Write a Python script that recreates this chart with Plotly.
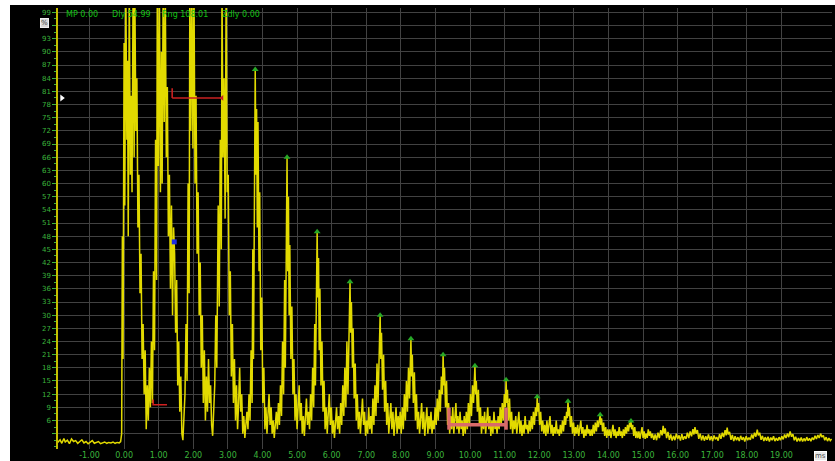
import plotly.graph_objects as go

# ---------------- data read from the A-scan (time in ms, amplitude in %) ----------------
baseline = [(-1.92, 1.0), (-1.85, 1.6), (-1.80, 0.8), (-1.74, 1.9), (-1.70, 1.1), (-1.64, 1.5),
            (-1.58, 0.7), (-1.52, 1.8), (-1.46, 1.2), (-1.40, 1.4), (-1.34, 0.8), (-1.28, 1.3),
            (-1.22, 1.6), (-1.16, 0.9), (-1.10, 1.2), (-1.04, 0.7), (-0.98, 1.1), (-0.92, 1.4),
            (-0.86, 0.8), (-0.80, 1.0), (-0.74, 1.2), (-0.68, 0.7), (-0.62, 0.9), (-0.56, 1.1),
            (-0.50, 0.8), (-0.44, 1.0), (-0.38, 0.9), (-0.32, 1.1), (-0.26, 0.8), (-0.20, 1.0),
            (-0.14, 0.9)]

echo_e0 = [(-0.10, 1.2), (-0.07, 3), (-0.05, 48), (-0.03, 20), (0.00, 92), (0.02, 55), (0.05, 105),
           (0.08, 70), (0.10, 88), (0.12, 48), (0.15, 105), (0.18, 62), (0.20, 80), (0.23, 58),
           (0.26, 105), (0.29, 66), (0.31, 105), (0.34, 72), (0.37, 84), (0.40, 50), (0.43, 62),
           (0.46, 35), (0.49, 44), (0.52, 20), (0.55, 28), (0.58, 12), (0.61, 22), (0.64, 4),
           (0.67, 14), (0.70, 6), (0.73, 18), (0.76, 9)]

echo_e1 = [(0.79, 24), (0.82, 10), (0.85, 40), (0.88, 22), (0.91, 70), (0.94, 38), (0.96, 105),
           (0.99, 64), (1.02, 105), (1.05, 58), (1.08, 90), (1.10, 60), (1.13, 105), (1.16, 74),
           (1.19, 105), (1.22, 66), (1.25, 82), (1.28, 48), (1.31, 62), (1.34, 36), (1.37, 55),
           (1.40, 30), (1.43, 50), (1.46, 44), (1.49, 26), (1.52, 38), (1.55, 14), (1.58, 24),
           (1.61, 8), (1.64, 16), (1.67, 3), (1.70, 1.5), (1.73, 6)]

echo_e2 = [(1.76, 12), (1.79, 28), (1.82, 15), (1.85, 60), (1.88, 35), (1.90, 105), (1.93, 72),
           (1.96, 105), (1.99, 68), (2.02, 105), (2.05, 60), (2.08, 80), (2.11, 44), (2.14, 58),
           (2.17, 30), (2.20, 42), (2.23, 18), (2.26, 30), (2.29, 10), (2.32, 22), (2.35, 6),
           (2.38, 16), (2.41, 8), (2.44, 20), (2.47, 10), (2.50, 14), (2.53, 5), (2.56, 2.5),
           (2.59, 8)]

echo_e3 = [(2.62, 14), (2.65, 30), (2.68, 18), (2.72, 55), (2.75, 32), (2.78, 70), (2.81, 45),
           (2.83, 105), (2.86, 66), (2.89, 84), (2.92, 52), (2.95, 105), (2.98, 58), (3.01, 62),
           (3.04, 30), (3.07, 40), (3.10, 16), (3.13, 28), (3.16, 10), (3.19, 20), (3.22, 6),
           (3.25, 14), (3.28, 4), (3.31, 10), (3.34, 18), (3.37, 8), (3.40, 12), (3.43, 3),
           (3.46, 7), (3.49, 2), (3.52, 5)]

echo_e4 = [(3.55, 8), (3.58, 4), (3.61, 12), (3.64, 6), (3.67, 22), (3.70, 10), (3.72, 45),
           (3.74, 20), (3.77, 70), (3.79, 86), (3.81, 62), (3.83, 77), (3.85, 50), (3.87, 74),
           (3.90, 40), (3.92, 58), (3.95, 22), (3.98, 34), (4.01, 10), (4.04, 18), (4.07, 4),
           (4.10, 9), (4.13, 3), (4.16, 7), (4.19, 12), (4.22, 5), (4.25, 9), (4.28, 3),
           (4.31, 6), (4.34, 2), (4.37, 5), (4.40, 8), (4.43, 4)]

echo_e5 = [(4.46, 10), (4.49, 5), (4.52, 14), (4.55, 7), (4.58, 24), (4.61, 12), (4.64, 38),
           (4.66, 18), (4.69, 52), (4.71, 66), (4.73, 40), (4.75, 57), (4.77, 30), (4.79, 46),
           (4.82, 20), (4.85, 32), (4.88, 12), (4.91, 20), (4.94, 6), (4.97, 12), (5.00, 4),
           (5.03, 8), (5.06, 14), (5.09, 6), (5.12, 10), (5.15, 3), (5.18, 7), (5.21, 2.5),
           (5.24, 6), (5.27, 11), (5.30, 5)]

echo_e6 = [(5.33, 8), (5.36, 4), (5.39, 12), (5.42, 6), (5.45, 18), (5.48, 9), (5.51, 28),
           (5.53, 14), (5.56, 40), (5.58, 49), (5.60, 34), (5.62, 43), (5.64, 22), (5.66, 36),
           (5.69, 14), (5.72, 24), (5.75, 8), (5.78, 15), (5.81, 4), (5.84, 9), (5.87, 3),
           (5.90, 7), (5.93, 12), (5.96, 5), (5.99, 9), (6.02, 3), (6.05, 6), (6.08, 2),
           (6.11, 5), (6.14, 9), (6.17, 4), (6.20, 7)]

echo_e7 = [(6.23, 3), (6.26, 10), (6.29, 5), (6.32, 14), (6.35, 7), (6.38, 18), (6.41, 9),
           (6.44, 24), (6.47, 12), (6.50, 30), (6.53, 37.6), (6.55, 26), (6.57, 33), (6.60, 18),
           (6.62, 27), (6.65, 11), (6.68, 19), (6.71, 6), (6.74, 12), (6.77, 4), (6.80, 8),
           (6.83, 3), (6.86, 7), (6.89, 11), (6.92, 5), (6.95, 8), (6.98, 2.5), (7.01, 6),
           (7.04, 3), (7.07, 9), (7.10, 4)]

echo_e8 = [(7.13, 7), (7.16, 3), (7.19, 11), (7.22, 5), (7.25, 14), (7.28, 7), (7.31, 19),
           (7.34, 10), (7.37, 24), (7.40, 30), (7.42, 20), (7.44, 26), (7.47, 13), (7.50, 21),
           (7.53, 8), (7.56, 15), (7.59, 5), (7.62, 10), (7.65, 3), (7.68, 7), (7.71, 10),
           (7.74, 4), (7.77, 8), (7.80, 2.5), (7.83, 6), (7.86, 9), (7.89, 3), (7.92, 7),
           (7.95, 4), (7.98, 8)]

echo_e9 = [(8.01, 3), (8.04, 9), (8.07, 4), (8.10, 12), (8.13, 6), (8.16, 15), (8.19, 8),
           (8.22, 18), (8.25, 11), (8.27, 21), (8.29, 24.6), (8.31, 16), (8.33, 21), (8.36, 10),
           (8.39, 17), (8.42, 6), (8.45, 12), (8.48, 4), (8.51, 8), (8.54, 3), (8.57, 7),
           (8.60, 10), (8.63, 4), (8.66, 8), (8.69, 2.5), (8.72, 6), (8.75, 9), (8.78, 3),
           (8.81, 7), (8.84, 4), (8.87, 8), (8.90, 3), (8.93, 6)]

echo_e10 = [(8.96, 4), (8.99, 9), (9.02, 5), (9.05, 11), (9.08, 6), (9.11, 13), (9.14, 8),
            (9.17, 16), (9.20, 12), (9.22, 21), (9.24, 14), (9.26, 18), (9.29, 9), (9.32, 15),
            (9.35, 5), (9.38, 10), (9.41, 3), (9.44, 7), (9.47, 4), (9.50, 9), (9.53, 3),
            (9.56, 6), (9.59, 10), (9.62, 4), (9.65, 7), (9.68, 3), (9.71, 8), (9.74, 4),
            (9.77, 6), (9.80, 2.5), (9.83, 7)]

echo_e11 = [(9.86, 3), (9.89, 8), (9.92, 4), (9.95, 10), (9.98, 5), (10.01, 12), (10.04, 7),
            (10.07, 14), (10.10, 10), (10.12, 16), (10.14, 18.5), (10.16, 12), (10.18, 15),
            (10.21, 8), (10.24, 13), (10.27, 5), (10.30, 9), (10.33, 3), (10.36, 7), (10.39, 4),
            (10.42, 8), (10.45, 3), (10.48, 6), (10.51, 9), (10.54, 4), (10.57, 7), (10.60, 2.5),
            (10.63, 6), (10.66, 3), (10.69, 8), (10.72, 4), (10.75, 6)]

echo_e12 = [(10.78, 3), (10.81, 7), (10.84, 4), (10.87, 9), (10.90, 5), (10.93, 10), (10.96, 6),
            (10.99, 12), (11.02, 9), (11.04, 15.3), (11.06, 10), (11.08, 13), (11.11, 6),
            (11.14, 11), (11.17, 4), (11.20, 8), (11.23, 3), (11.26, 6), (11.29, 4), (11.32, 7),
            (11.35, 3), (11.38, 5), (11.41, 8), (11.44, 3), (11.47, 6), (11.50, 2.5), (11.53, 5),
            (11.56, 3), (11.59, 7), (11.62, 4), (11.65, 5)]

echo_e13 = [(11.68, 3), (11.71, 6), (11.74, 3.5), (11.77, 7), (11.80, 4), (11.83, 8), (11.86, 5),
            (11.89, 9), (11.92, 7), (11.94, 11.4), (11.96, 8), (11.98, 10), (12.01, 5),
            (12.04, 8), (12.07, 3.5), (12.10, 6), (12.13, 3), (12.16, 5), (12.19, 2.5),
            (12.22, 6), (12.25, 3), (12.28, 4.5), (12.31, 7), (12.34, 3), (12.37, 5),
            (12.40, 2.5), (12.43, 4.5), (12.46, 3), (12.49, 6), (12.52, 3), (12.55, 4)]

echo_e14 = [(12.58, 2.5), (12.61, 5), (12.64, 3), (12.67, 6), (12.70, 3.5), (12.73, 7),
            (12.76, 5), (12.79, 8), (12.81, 6.5), (12.83, 10.4), (12.85, 7), (12.87, 9),
            (12.90, 4.5), (12.93, 7), (12.96, 3), (12.99, 5.5), (13.02, 2.5), (13.05, 4.5),
            (13.08, 3), (13.11, 5), (13.14, 2.5), (13.17, 4), (13.20, 6), (13.23, 3),
            (13.26, 4.5), (13.29, 2), (13.32, 4), (13.35, 2.5), (13.38, 5), (13.41, 3), (13.44, 4)]

echo_e15 = [(13.47, 2.5), (13.50, 4), (13.53, 2.5), (13.56, 5), (13.59, 3), (13.62, 5.5),
            (13.65, 3.5), (13.68, 6), (13.71, 4.5), (13.74, 6.5), (13.76, 7.3), (13.78, 5),
            (13.80, 6.5), (13.83, 3.5), (13.86, 5.5), (13.89, 2.5), (13.92, 4.5), (13.95, 2),
            (13.98, 4), (14.01, 2.5), (14.04, 4), (14.07, 2), (14.10, 3.5), (14.13, 5),
            (14.16, 2.5), (14.19, 4), (14.22, 2), (14.25, 3.5), (14.28, 2.5), (14.31, 4.5),
            (14.34, 2.5)]

echo_e16 = [(14.37, 3.5), (14.40, 2), (14.43, 4), (14.46, 2.5), (14.49, 4.5), (14.52, 3),
            (14.55, 5), (14.58, 3.5), (14.61, 5.5), (14.63, 4.5), (14.65, 5.9), (14.67, 4),
            (14.70, 5), (14.73, 2.5), (14.76, 4.5), (14.79, 2), (14.82, 3.5), (14.85, 2),
            (14.88, 3.5), (14.91, 1.8), (14.94, 3), (14.97, 4.5), (15.00, 2), (15.03, 3.5),
            (15.06, 1.8), (15.09, 3), (15.12, 2), (15.15, 4), (15.18, 2.5), (15.21, 3.5),
            (15.24, 2)]

tail = [(15.27, 3), (15.31, 1.6), (15.35, 2.8), (15.39, 1.5), (15.43, 3.2), (15.47, 2),
        (15.51, 3.8), (15.55, 2.6), (15.58, 4.8), (15.61, 3), (15.64, 4.2), (15.68, 2),
        (15.72, 3.4), (15.76, 1.6), (15.80, 2.8), (15.84, 1.4), (15.88, 2.5), (15.92, 1.5),
        (15.96, 3), (16.00, 1.8), (16.04, 2.6), (16.08, 1.4), (16.12, 2.9), (16.16, 1.6),
        (16.20, 2.4), (16.24, 1.8), (16.28, 3.2), (16.32, 2), (16.36, 3.5), (16.40, 2.4),
        (16.44, 4), (16.47, 2.8), (16.50, 4.5), (16.53, 3), (16.57, 3.8), (16.61, 1.8),
        (16.65, 3), (16.69, 1.5), (16.73, 2.6), (16.77, 1.4), (16.81, 2.4), (16.85, 1.6),
        (16.89, 2.8), (16.93, 1.5), (16.97, 2.4), (17.01, 1.3), (17.05, 2.6), (17.09, 1.7),
        (17.13, 2.2), (17.17, 1.4), (17.21, 2.9), (17.25, 1.8), (17.29, 3.2), (17.33, 2.2),
        (17.37, 3.8), (17.40, 2.6), (17.43, 4.4), (17.46, 2.8), (17.50, 3.4), (17.54, 1.6),
        (17.58, 2.7), (17.62, 1.3), (17.66, 2.4), (17.70, 1.5), (17.74, 2.2), (17.78, 1.3),
        (17.82, 2.5), (17.86, 1.6), (17.90, 2.2), (17.94, 1.2), (17.98, 2.4), (18.02, 1.5),
        (18.06, 2.1), (18.10, 1.6), (18.14, 2.8), (18.18, 1.9), (18.22, 3.2), (18.26, 2.3),
        (18.30, 3.9), (18.33, 2.6), (18.37, 3.2), (18.41, 1.6), (18.45, 2.5), (18.49, 1.3),
        (18.53, 2.2), (18.57, 1.4), (18.61, 2.3), (18.65, 1.2), (18.69, 2.1), (18.73, 1.5),
        (18.77, 2.4), (18.81, 1.3), (18.85, 2.0), (18.89, 1.4), (18.93, 2.2), (18.97, 1.5),
        (19.01, 2.4), (19.05, 1.7), (19.09, 2.8), (19.13, 2.0), (19.17, 3.0), (19.21, 2.2),
        (19.25, 3.5), (19.29, 2.3), (19.33, 2.9), (19.37, 1.5), (19.41, 2.3), (19.45, 1.2),
        (19.49, 2.0), (19.53, 1.3), (19.57, 2.1), (19.61, 1.2), (19.65, 1.9), (19.69, 1.3),
        (19.73, 2.2), (19.77, 1.4), (19.81, 1.9), (19.85, 1.3), (19.89, 2.1), (19.93, 1.6),
        (19.97, 2.5), (20.01, 1.8), (20.05, 2.7), (20.09, 2.0), (20.13, 3.0), (20.17, 2.2),
        (20.21, 2.6), (20.25, 1.5), (20.29, 2.2), (20.33, 1.3), (20.37, 2.0), (20.41, 1.4),
        (20.45, 1.8)]

# peak (echo) markers
peak_t = [1.97, 2.86, 3.79, 4.71, 5.58, 6.53, 7.40, 8.29, 9.22, 10.14, 11.04, 11.94, 12.83, 13.76, 14.65]
peak_a = [100.4, 100.4, 86, 66, 49, 37.6, 30, 24.6, 21, 18.5, 15.3, 11.4, 10.4, 7.3, 5.9]

# gates / cursors
red_gate_t = [1.39, 2.83]
red_gate_level = 79.5
red_mark_t = [0.84, 1.24]
red_mark_level = 9.6
pink_gate_t = [9.39, 11.04]
pink_gate_level = 5.0
pink_gate_ends = [3.9, 8.9]
blue_cursor = (1.45, 46.7)

x_ticks = list(range(-1, 20))
x_labels = ["%.2f" % v for v in x_ticks]
y_ticks = list(range(3, 100, 3))
y_labels = ["" if v in (3, 96) else str(v) for v in y_ticks]

info_texts = ["MP 0.00", "Dly 54.99", "Rng 108.01", "Zdly 0.00"]
info_px = [64, 110, 160, 220]

# ---------------- build figure ----------------
segments = [baseline, echo_e0, echo_e1, echo_e2, echo_e3, echo_e4, echo_e5, echo_e6, echo_e7,
            echo_e8, echo_e9, echo_e10, echo_e11, echo_e12, echo_e13, echo_e14, echo_e15,
            echo_e16, tail]
t_ms = [p[0] for s in segments for p in s]
amp = [p[1] for s in segments for p in s]

W, H = 835, 461
L, R, T, B = 58, 3, 8, 12
pw, ph = W - L - R, H - T - B
XR = [-1.91, 20.46]
YR = [-0.5, 100.0]

def px_to_paper_x(px):
    return (px - L) / pw

def py_to_paper_y(py):
    return (H - B - py) / ph

GREEN = "#3cb43c"
YELLOW = "#e2da00"

fig = go.Figure()

fig.add_trace(go.Scatter(x=t_ms, y=amp, mode="lines",
                         line=dict(color=YELLOW, width=1.5), hoverinfo="skip"))

# red gate
fig.add_trace(go.Scatter(x=red_gate_t, y=[red_gate_level] * 2, mode="lines",
                         line=dict(color="#c82020", width=1.6)))
fig.add_trace(go.Scatter(x=[red_gate_t[0]] * 2, y=[red_gate_level, red_gate_level + 2.2], mode="lines",
                         line=dict(color="#c82020", width=1.6)))
fig.add_trace(go.Scatter(x=[red_gate_t[1]], y=[red_gate_level], mode="markers",
                         marker=dict(symbol="triangle-left", color="#c82020", size=5)))
# small red cursor low
fig.add_trace(go.Scatter(x=[red_mark_t[0], red_mark_t[0], red_mark_t[1]],
                         y=[red_mark_level + 1.2, red_mark_level, red_mark_level], mode="lines",
                         line=dict(color="#d02020", width=1.6)))

# pink gate
pink_col = "#d96a6a"
fig.add_trace(go.Scatter(x=pink_gate_t, y=[pink_gate_level] * 2, mode="lines",
                         line=dict(color=pink_col, width=3.5)))
for tt in pink_gate_t:
    fig.add_trace(go.Scatter(x=[tt, tt], y=pink_gate_ends, mode="lines",
                             line=dict(color=pink_col, width=3.5)))

# blue cursor
fig.add_trace(go.Scatter(x=[blue_cursor[0]], y=[blue_cursor[1]], mode="markers",
                         marker=dict(symbol="square", color="#2030e0", size=5)))

# peak markers
fig.add_trace(go.Scatter(x=peak_t, y=peak_a, mode="markers", cliponaxis=False,
                         marker=dict(symbol="triangle-up", color="#27a827", size=6)))

# white indicators
fig.add_trace(go.Scatter(x=[-1.80], y=[red_gate_level], mode="markers", cliponaxis=False,
                         marker=dict(symbol="triangle-right", color="white", size=6)))
fig.add_trace(go.Scatter(x=[-1.80, 2.95], y=[-1.0, -0.6], mode="markers", cliponaxis=False,
                         marker=dict(symbol="triangle-up", color="white", size=5)))

fig.update_layout(
    width=W, height=H, showlegend=False,
    margin=dict(l=L, r=R, t=T, b=B, pad=0, autoexpand=False),
    paper_bgcolor="black", plot_bgcolor="black",
    font=dict(family="DejaVu Sans", size=8, color=GREEN),
    xaxis=dict(range=XR, tickmode="array", tickvals=x_ticks, ticktext=x_labels,
               showgrid=True, gridcolor="#424242", gridwidth=1, zeroline=False,
               showline=False, ticks="", automargin=False,
               tickfont=dict(size=8, color=GREEN)),
    yaxis=dict(range=YR, tickmode="array", tickvals=y_ticks, ticktext=y_labels,
               showgrid=True, gridcolor="#424242", gridwidth=1, zeroline=False,
               showline=True, linecolor="#c8bf00", linewidth=1.5, automargin=False,
               ticks="outside", ticklen=4, tickcolor=GREEN, tickwidth=1,
               minor=dict(dtick=1.5, tick0=0, ticks="outside", ticklen=2, tickcolor=GREEN, showgrid=False),
               tickfont=dict(size=7, color=GREEN)),
)

# white strips at left and top of the screenshot
fig.add_shape(type="rect", xref="paper", yref="paper", layer="above",
              x0=px_to_paper_x(-2), x1=px_to_paper_x(10), y0=py_to_paper_y(465), y1=py_to_paper_y(-2),
              fillcolor="white", line=dict(width=0))
fig.add_shape(type="rect", xref="paper", yref="paper", layer="above",
              x0=px_to_paper_x(-2), x1=px_to_paper_x(840), y0=py_to_paper_y(5), y1=py_to_paper_y(-2),
              fillcolor="white", line=dict(width=0))

# info texts
for txt, px in zip(info_texts, info_px):
    fig.add_annotation(xref="paper", yref="paper", x=px_to_paper_x(px), y=py_to_paper_y(14),
                       text=txt, showarrow=False, xanchor="left", yanchor="middle",
                       font=dict(size=8, color="#12c012", family="DejaVu Sans"))

# % button
fig.add_annotation(xref="paper", yref="paper", x=px_to_paper_x(44), y=py_to_paper_y(23),
                   text="%", showarrow=False, xanchor="center", yanchor="middle",
                   bgcolor="#d8d8d8", bordercolor="#f0f0f0", borderwidth=1, borderpad=0,
                   font=dict(size=7, color="#404040"))
# ms button
fig.add_annotation(xref="paper", yref="paper", x=px_to_paper_x(820), y=py_to_paper_y(456),
                   text="ms", showarrow=False, xanchor="center", yanchor="middle",
                   bgcolor="#e8e8e8", bordercolor="#ffffff", borderwidth=1, borderpad=0,
                   font=dict(size=7, color="#505050"))

fig.write_html("out.html")
